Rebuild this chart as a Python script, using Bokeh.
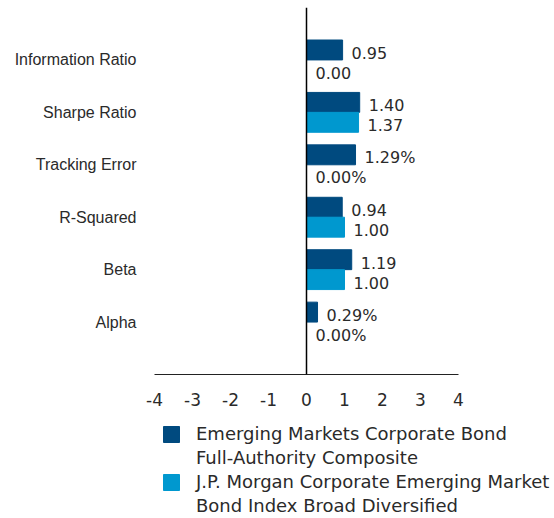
from bokeh.plotting import figure
from bokeh.models import ColumnDataSource, Span, Legend, LegendItem, FixedTicker, Range1d
from bokeh.core.properties import value
from bokeh.embed import file_html
from bokeh.resources import INLINE

categories = ["Information Ratio", "Sharpe Ratio", "Tracking Error", "R-Squared", "Beta", "Alpha"]
composite = [0.95, 1.40, 1.29, 0.94, 1.19, 0.29]
benchmark = [0.00, 1.37, 0.00, 1.00, 1.00, 0.00]
composite_labels = ["0.95", "1.40", "1.29%", "0.94", "1.19", "0.29%"]
benchmark_labels = ["0.00", "1.37", "0.00%", "1.00", "1.00", "0.00%"]
x_ticks = [-4, -3, -2, -1, 0, 1, 2, 3, 4]
composite_name = ["Emerging Markets Corporate Bond", "Full-Authority Composite"]
benchmark_name = ["J.P. Morgan Corporate Emerging Market", "Bond Index Broad Diversified"]

DARK = "#004a7f"
LIGHT = "#0098cf"
TXT = "#2a2a2a"

n = len(categories)
pos = [n - i for i in range(n)]
bw = 0.38

src = ColumnDataSource(dict(
    pos=pos,
    dark_y=[v + bw / 2 for v in pos],
    light_y=[v - bw / 2 for v in pos],
    comp=composite, bench=benchmark,
    comp_lbl=composite_labels, bench_lbl=benchmark_labels,
))

p = figure(width=554, height=412, x_range=Range1d(-4, 4), y_range=Range1d(0, n + 1),
           output_backend="svg", toolbar_location=None,
           min_border_left=154, min_border_right=96, min_border_top=7, min_border_bottom=38)
p.outline_line_color = None
p.xgrid.grid_line_color = None
p.ygrid.grid_line_color = None

r1 = p.hbar(y="dark_y", right="comp", left=0, height=bw, color=DARK, source=src)
r2 = p.hbar(y="light_y", right="bench", left=0, height=bw, color=LIGHT, source=src)

font_vals = value("DejaVu Sans")
p.text(x="comp", y="dark_y", text="comp_lbl", source=src, x_offset=9, y_offset=3,
       text_baseline="middle", text_font=font_vals, text_font_size="16px", text_color=TXT)
p.text(x="bench", y="light_y", text="bench_lbl", source=src, x_offset=9, y_offset=3,
       text_baseline="middle", text_font=font_vals, text_font_size="16px", text_color=TXT)

p.add_layout(Span(location=0, dimension="height", line_color="black", line_width=1.5))

xa = p.xaxis[0]
xa.ticker = FixedTicker(ticks=x_ticks)
xa.major_label_overrides = {t: str(t) for t in x_ticks}
xa.major_tick_out = 0
xa.major_tick_in = 0
xa.minor_tick_out = 0
xa.minor_tick_in = 0
xa.axis_line_color = "#222222"
xa.major_label_standoff = 18
xa.major_label_text_font = "DejaVu Sans"
xa.major_label_text_font_size = "17px"
xa.major_label_text_color = TXT

ya = p.yaxis[0]
ya.ticker = FixedTicker(ticks=pos)
ya.major_label_overrides = {pp: c for pp, c in zip(pos, categories)}
ya.axis_line_color = None
ya.major_tick_out = 0
ya.major_tick_in = 0
ya.minor_tick_out = 0
ya.minor_tick_in = 0
ya.major_label_standoff = 18
ya.major_label_text_font = "Liberation Sans"
ya.major_label_text_font_size = "16px"
ya.major_label_text_color = TXT

# legend panel below the chart (separate root so its frame spans the full width)
p2 = figure(width=554, height=106, x_range=Range1d(0, 1), y_range=Range1d(100, 101),
            output_backend="svg", toolbar_location=None,
            min_border_left=0, min_border_right=0, min_border_top=0, min_border_bottom=0)
p2.outline_line_color = None
p2.axis.visible = False
p2.xgrid.grid_line_color = None
p2.ygrid.grid_line_color = None
l1 = p2.hbar(y="dark_y", right="comp", left=0, height=bw, color=DARK, source=src)
l2 = p2.hbar(y="light_y", right="bench", left=0, height=bw, color=LIGHT, source=src)
blank = p2.hbar(y="dark_y", right="comp", left=0, height=bw, fill_alpha=0, line_alpha=0, source=src)

legend = Legend(items=[LegendItem(label=composite_name[0], renderers=[l1]),
                       LegendItem(label=composite_name[1], renderers=[blank]),
                       LegendItem(label=benchmark_name[0], renderers=[l2]),
                       LegendItem(label=benchmark_name[1], renderers=[blank])],
                location=(161, 2), orientation="vertical",
                glyph_width=20, glyph_height=20, label_standoff=15,
                label_text_font="DejaVu Sans", label_text_font_size="18px",
                label_text_color=TXT, border_line_color=None, background_fill_alpha=0,
                padding=0, margin=0, spacing=3)
p2.add_layout(legend, "center")

open("out.html", "w").write(file_html([p, p2], INLINE))
